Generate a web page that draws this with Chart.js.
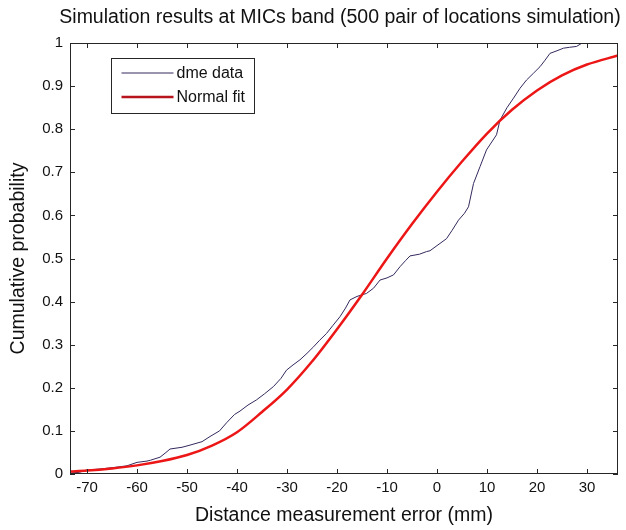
<!DOCTYPE html>
<html><head><meta charset="utf-8">
<script src="https://cdn.jsdelivr.net/npm/chart.js@4.4.1/dist/chart.umd.min.js"></script>
<style>html,body{margin:0;padding:0;background:#fff}#wrap{width:626px;height:530px;position:relative}</style>
</head><body><div id="wrap"><canvas id="c"></canvas></div>
<script>
const titleText = "Simulation results at MICs band (500 pair of locations simulation)";
const xAxisLabel = "Distance measurement error (mm)";
const yAxisLabel = "Cumulative probability";
const seriesNames = ["dme data", "Normal fit"];
const seriesColors = ["#35285c", "#ec1616"];
const xTickValues = [-70, -60, -50, -40, -30, -20, -10, 0, 10, 20, 30];
const xTickLabels = ["-70", "-60", "-50", "-40", "-30", "-20", "-10", "0", "10", "20", "30"];
const yTickValues = [0, 0.1, 0.2, 0.3, 0.4, 0.5, 0.6, 0.7, 0.8, 0.9, 1];
const yTickLabels = ["0", "0.1", "0.2", "0.3", "0.4", "0.5", "0.6", "0.7", "0.8", "0.9", "1"];
const xRange = [-73.4, 36.2];
const yRange = [0, 1];

const dmeX = [-73.4, -71.5, -70.1, -67, -64, -62, -60, -58, -57.3, -55.4, -54.2, -53.4, -51, -49.4, -47, -45.4, -43.5, -42, -40.5, -39.4, -37.8, -36.1, -34.5, -32.7, -31.2, -30.1, -28.8, -27.4, -26, -24.7, -23.5, -22.1, -20.8, -19.4, -18.3, -17.4, -16, -14.1, -12.7, -11.4, -10, -8.7, -7.4, -6.3, -5.4, -3.5, -2.1, -1.4, 0.6, 1.9, 3, 4.3, 5.5, 6.3, 7.3, 8.6, 9.9, 11.9, 12.6, 14, 15.3, 16.6, 17.9, 19.3, 20.6, 21.6, 22.6, 24, 25.3, 26.5, 27.9, 28.9, 29.5];
const dmeY = [0.002, 0.004, 0.009, 0.012, 0.016, 0.019, 0.027, 0.03, 0.032, 0.039, 0.05, 0.058, 0.062, 0.067, 0.075, 0.087, 0.1, 0.12, 0.138, 0.146, 0.16, 0.172, 0.186, 0.203, 0.222, 0.241, 0.253, 0.265, 0.28, 0.295, 0.31, 0.326, 0.345, 0.365, 0.385, 0.404, 0.412, 0.419, 0.431, 0.45, 0.455, 0.462, 0.481, 0.495, 0.506, 0.51, 0.516, 0.518, 0.535, 0.546, 0.565, 0.589, 0.605, 0.62, 0.674, 0.713, 0.752, 0.787, 0.821, 0.85, 0.872, 0.895, 0.914, 0.93, 0.945, 0.96, 0.976, 0.982, 0.988, 0.99, 0.992, 0.999, 1.0];

const fitX = [-73.4, -70, -65, -60, -55, -50, -45, -40, -35, -30, -25, -20, -15, -10, -5, 0, 5, 10, 15, 20, 25, 30, 36.2];
const fitY = [0.006, 0.008, 0.013, 0.02, 0.03, 0.044, 0.066, 0.097, 0.144, 0.196, 0.261, 0.336, 0.416, 0.5, 0.58, 0.655, 0.725, 0.79, 0.845, 0.89, 0.925, 0.95, 0.971];

const FONT = "'Liberation Sans', Arial, sans-serif";
const toPts = (xs, ys) => xs.map((x, i) => ({x: x, y: ys[i]}));

const framePlugin = {
  id: 'matlabFrame',
  afterDatasetsDraw(chart) {
    const {ctx, chartArea: a, scales: {x, y}} = chart;
    ctx.save();
    ctx.strokeStyle = '#262626';
    ctx.lineWidth = 1;
    ctx.strokeRect(Math.round(a.left) + 0.5, Math.round(a.top) + 0.5, Math.round(a.right - a.left) - 1, Math.round(a.bottom - a.top) - 1);
    const tl = 5;
    ctx.beginPath();
    xTickValues.forEach(v => {
      const px = Math.round(x.getPixelForValue(v)) + 0.5;
      ctx.moveTo(px, a.bottom); ctx.lineTo(px, a.bottom - tl);
      ctx.moveTo(px, a.top); ctx.lineTo(px, a.top + tl);
    });
    yTickValues.forEach(v => {
      const py = Math.round(y.getPixelForValue(v)) + 0.5;
      ctx.moveTo(a.left, py); ctx.lineTo(a.left + tl, py);
      ctx.moveTo(a.right, py); ctx.lineTo(a.right - tl, py);
    });
    ctx.stroke();

    // legend
    const lx = a.left + 41.5, ly = a.top + 15.5, lw = 143, lh = 55;
    ctx.fillStyle = '#fff';
    ctx.fillRect(lx, ly, lw, lh);
    ctx.strokeStyle = '#262626';
    ctx.strokeRect(lx, ly, lw, lh);
    const rows = [ly + 14.5, ly + 38.5];
    chart.data.datasets.forEach((ds, i) => {
      ctx.strokeStyle = i === 0 ? ds.borderColor : '#b8141e';
      ctx.lineWidth = i === 0 ? 1 : 2.5;
      ctx.beginPath();
      ctx.moveTo(lx + 10, rows[i]); ctx.lineTo(lx + 62, rows[i]);
      ctx.stroke();
      ctx.fillStyle = '#111';
      ctx.font = '16px ' + FONT;
      ctx.textBaseline = 'middle';
      ctx.textAlign = 'left';
      ctx.fillText(ds.label, lx + 65, rows[i] + 1);
    });

    // title
    ctx.fillStyle = '#111';
    ctx.font = '19.5px ' + FONT;
    ctx.textAlign = 'center';
    ctx.textBaseline = 'middle';
    ctx.fillText(titleText, (a.left + a.right) / 2 - 4, 18);
    ctx.restore();
  }
};

new Chart(document.getElementById('c'), {
  type: 'line',
  data: {
    datasets: [
      {label: seriesNames[0], data: toPts(dmeX, dmeY), borderColor: seriesColors[0], borderWidth: 1, pointRadius: 0, tension: 0, order: 1},
      {label: seriesNames[1], data: toPts(fitX, fitY), borderColor: seriesColors[1], borderWidth: 2.5, pointRadius: 0, cubicInterpolationMode: 'monotone', order: 0}
    ]
  },
  options: {
    responsive: true,
    maintainAspectRatio: false,
    animation: false,
    events: [],
    layout: {padding: {top: 43, right: 8, left: 0, bottom: 0}},
    plugins: {legend: {display: false}, title: {display: false}, tooltip: {enabled: false}},
    scales: {
      x: {
        type: 'linear', min: xRange[0], max: xRange[1],
        grid: {display: false, drawTicks: false}, border: {display: false},
        afterBuildTicks: s => { s.ticks = xTickValues.map(v => ({value: v})); },
        afterFit: s => { s.height = 56; },
        ticks: {padding: 5, color: '#111', font: {family: FONT, size: 15}, maxRotation: 0, autoSkip: false,
          callback: (v, i) => xTickLabels[i]},
        title: {display: true, text: xAxisLabel, color: '#111', font: {family: FONT, size: 19.5, lineHeight: 1.2}, padding: {top: 0, bottom: 3}}
      },
      y: {
        type: 'linear', min: yRange[0], max: yRange[1],
        grid: {display: false, drawTicks: false}, border: {display: false},
        afterBuildTicks: s => { s.ticks = yTickValues.map(v => ({value: v})); },
        afterFit: s => { s.width = 70; },
        ticks: {padding: 7, color: '#111', font: {family: FONT, size: 15}, autoSkip: false,
          callback: (v, i) => yTickLabels[i]},
        title: {display: true, text: yAxisLabel, color: '#111', font: {family: FONT, size: 19.5, lineHeight: 1.2}, padding: {top: 7, bottom: 0}}
      }
    }
  },
  plugins: [framePlugin]
});
</script>
</body></html>
